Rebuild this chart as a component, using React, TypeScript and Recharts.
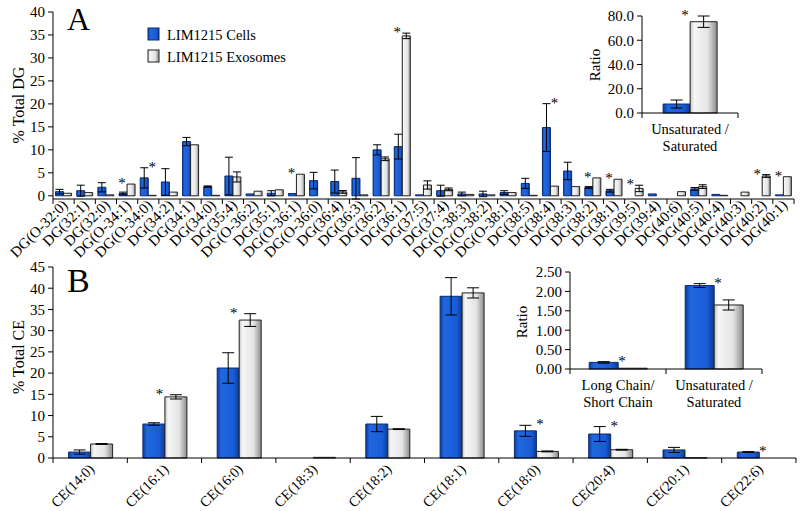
import React from 'react';
import { ComposedChart, Bar, Line, XAxis, YAxis, ErrorBar } from 'recharts';

const FONT = "'Liberation Serif', 'Times New Roman', serif";

// Panel A: DG species
const dgLabels = [
  'DG(O-32:0)', 'DG(32:1)', 'DG(32:0)', 'DG(O-34:1)', 'DG(O-34:0)', 'DG(34:2)', 'DG(34:1)',
  'DG(34:0)', 'DG(35:4)', 'DG(O-36:2)', 'DG(35:1)', 'DG(O-36:1)', 'DG(O-36:0)', 'DG(36:4)',
  'DG(36:3)', 'DG(36:2)', 'DG(36:1)', 'DG(37:5)', 'DG(37:4)', 'DG(O-38:3)', 'DG(O-38:2)',
  'DG(O-38:1)', 'DG(38:5)', 'DG(38:4)', 'DG(38:3)', 'DG(38:2)', 'DG(38:1)', 'DG(39:5)',
  'DG(39:4)', 'DG(40:6)', 'DG(40:5)', 'DG(40:4)', 'DG(40:3)', 'DG(40:2)', 'DG(40:1)',
];
const dgCells = [0.9, 1.1, 1.85, 0.5, 3.9, 3.0, 11.8, 2.0, 4.3, 0.4, 0.55, 0.5, 3.3, 3.1, 3.8, 10.0, 10.7, 0.2, 1.1, 0.4, 0.4, 0.7, 2.7, 14.85, 5.4, 1.8, 1.1, 0, 0.4, 0, 1.5, 0.3, 0, 0, 0.2];
const dgCellsErr = [0.5, 1.2, 1.0, 0.3, 2.2, 2.9, 0.9, 0.15, 4.1, 0, 0.55, 0, 1.8, 2.5, 4.5, 1.1, 2.7, 0, 1.2, 0.4, 0.6, 0.4, 1.1, 5.2, 1.9, 0.2, 0.3, 0, 0, 0, 0.3, 0, 0, 0, 0];
const dgExo = [0.55, 0.7, 0.2, 2.55, 0.1, 0.8, 11.1, 0.1, 4.1, 1.0, 1.3, 4.7, 0, 0.85, 0.2, 8.05, 34.8, 2.35, 1.4, 0.3, 0.2, 0.7, 0.1, 2.1, 2.0, 3.9, 3.6, 1.6, 0, 0.9, 2.0, 0.1, 0.8, 4.3, 4.15];
const dgExoErr = [0, 0, 0, 0, 0, 0, 0, 0, 1.1, 0, 0, 0, 0, 0.3, 0, 0.4, 0.6, 0.9, 0.3, 0, 0, 0, 0, 0, 0, 0, 0, 0.7, 0, 0, 0.4, 0, 0, 0.3, 0];
const dgStars = ['DG(O-34:1)', 'DG(O-34:0)', 'DG(O-36:1)', 'DG(36:1)', 'DG(38:4)', 'DG(38:2)', 'DG(38:1)', 'DG(39:5)', 'DG(40:2)', 'DG(40:1)'];
const dgTicks = [0, 5, 10, 15, 20, 25, 30, 35, 40];

// Panel A inset
const dgRatioLabels = ['Unsaturated /\nSaturated'];
const dgRatioCells = [7.4];
const dgRatioCellsErr = [3.3];
const dgRatioExo = [75.3];
const dgRatioExoErr = [4.7];
const dgRatioStars = ['Unsaturated /\nSaturated'];
const dgRatioTicks = [0, 20, 40, 60, 80];

// Panel B: CE species
const ceLabels = ['CE(14:0)', 'CE(16:1)', 'CE(16:0)', 'CE(18:3)', 'CE(18:2)', 'CE(18:1)', 'CE(18:0)', 'CE(20:4)', 'CE(20:1)', 'CE(22:6)'];
const ceCells = [1.4, 8.0, 21.2, 0, 8.0, 38.1, 6.4, 5.65, 1.9, 1.4];
const ceCellsErr = [0.5, 0.3, 3.6, 0, 1.8, 4.4, 1.3, 1.75, 0.6, 0.1];
const ceExo = [3.3, 14.4, 32.5, 0.15, 6.8, 38.9, 1.55, 1.95, 0.05, 0];
const ceExoErr = [0.1, 0.5, 1.5, 0, 0.1, 1.2, 0.1, 0.1, 0, 0];
const ceStars = ['CE(16:1)', 'CE(16:0)', 'CE(18:0)', 'CE(20:4)', 'CE(22:6)'];
const ceTicks = [0, 5, 10, 15, 20, 25, 30, 35, 40, 45];

// Panel B inset
const ceRatioLabels = ['Long Chain/\nShort Chain', 'Unsaturated /\nSaturated'];
const ceRatioCells = [0.17, 2.15];
const ceRatioCellsErr = [0.02, 0.05];
const ceRatioExo = [0.02, 1.65];
const ceRatioExoErr = [0, 0.13];
const ceRatioStars = ['Long Chain/\nShort Chain', 'Unsaturated /\nSaturated'];
const ceRatioTicks = [0, 0.5, 1, 1.5, 2, 2.5];

function buildRows(labels: string[], c: number[], ce: number[], e: number[], ee: number[], stars: string[]) {
  return labels.map((name, i) => {
    const exoTaller = e[i] >= c[i];
    return {
      name,
      c: c[i],
      ce: ce[i],
      e: e[i],
      ee: ee[i],
      star: stars.includes(name),
      exoTaller,
      starY: exoTaller ? e[i] + ee[i] : c[i] + ce[i],
    };
  });
}

const dgRows = buildRows(dgLabels, dgCells, dgCellsErr, dgExo, dgExoErr, dgStars);
const dgRatioRows = buildRows(dgRatioLabels, dgRatioCells, dgRatioCellsErr, dgRatioExo, dgRatioExoErr, dgRatioStars);
const ceRows = buildRows(ceLabels, ceCells, ceCellsErr, ceExo, ceExoErr, ceStars);
const ceRatioRows = buildRows(ceRatioLabels, ceRatioCells, ceRatioCellsErr, ceRatioExo, ceRatioExoErr, ceRatioStars);

const Gradients = ({ id }: { id: string }) => (
  <defs>
    <linearGradient id={`blue-${id}`} x1="0" y1="0" x2="1" y2="0">
      <stop offset="0%" stopColor="#0b3c9c" />
      <stop offset="18%" stopColor="#2068e0" />
      <stop offset="75%" stopColor="#1a5cd6" />
      <stop offset="100%" stopColor="#0c3a92" />
    </linearGradient>
    <linearGradient id={`gray-${id}`} x1="0" y1="0" x2="1" y2="0">
      <stop offset="0%" stopColor="#c4c4c4" />
      <stop offset="15%" stopColor="#f6f6f6" />
      <stop offset="65%" stopColor="#e4e4e4" />
      <stop offset="100%" stopColor="#8c8c8c" />
    </linearGradient>
  </defs>
);

// rotated category tick with boundary tick marks
function rotatedTick(band: number, fontSize: number, dx: number, dy: number) {
  return (props: any) => {
    const { x, y, payload, index } = props;
    const h = band / 2;
    const tx = x + dx;
    const ty = y + dy;
    return (
      <g>
        <line x1={x + h} x2={x + h} y1={y} y2={y + 5} stroke="#000" />
        {index === 0 && <line x1={x - h} x2={x - h} y1={y} y2={y + 5} stroke="#000" />}
        <text x={tx} y={ty} textAnchor="end" transform={`rotate(-45 ${tx} ${ty})`}
          fontSize={fontSize} fontFamily={FONT} fill="#000">{payload.value}</text>
      </g>
    );
  };
}

function twoLineTick(band: number) {
  return (props: any) => {
    const { x, y, payload, index } = props;
    const h = band / 2;
    const lines = String(payload.value).split('\n');
    return (
      <g>
        <line x1={x + h} x2={x + h} y1={y} y2={y + 5} stroke="#000" />
        {index === 0 && <line x1={x - h} x2={x - h} y1={y} y2={y + 5} stroke="#000" />}
        {lines.map((t, i) => (
          <text key={i} x={x} y={y + 21 + i * 17} textAnchor="middle" fontSize={14.5} fontFamily={FONT} fill="#000">{t}</text>
        ))}
      </g>
    );
  };
}

const renderStar = (props: any) => {
  const { cx, cy, payload, index } = props;
  if (!payload || !payload.star || cx == null || cy == null) return <g key={`s${index}`} />;
  const sx = cx + (payload.exoTaller ? -5 : 4);
  return (
    <text key={`s${index}`} x={sx} y={cy + 4} textAnchor="middle" fontSize={15} fontFamily={FONT} fill="#000">*</text>
  );
};

type PanelProps = {
  id: string;
  rows: any[];
  width: number;
  height: number;
  margin: { top: number; right: number; left: number; bottom: number };
  yWidth: number;
  xHeight: number;
  domain: [number, number];
  ticks: number[];
  fmt?: (v: number) => string;
  gap: string;
  tick: any;
  errW: number;
};

const Panel = ({ id, rows, width, height, margin, yWidth, xHeight, domain, ticks, fmt, gap, tick, errW }: PanelProps) => (
  <ComposedChart width={width} height={height} data={rows} margin={margin} barCategoryGap={gap} barGap={0}
    style={{ fontFamily: FONT }}>
    <Gradients id={id} />
    <XAxis dataKey="name" interval={0} height={xHeight} tickLine={false} tickSize={0} tickMargin={0}
      axisLine={{ stroke: '#000' }} tick={tick} />
    <YAxis width={yWidth} domain={domain} ticks={ticks} interval={0}
      tickFormatter={fmt} axisLine={{ stroke: '#000' }} tickLine={{ stroke: '#000' }} tickSize={5} tickMargin={3}
      tick={{ fontSize: 15, fill: '#000', fontFamily: FONT }} />
    <Bar dataKey="c" fill={`url(#blue-${id})`} stroke="#0a2a6e" strokeWidth={1} isAnimationActive={false}>
      <ErrorBar dataKey="ce" width={errW} stroke="#000" strokeWidth={1} direction="y" />
    </Bar>
    <Bar dataKey="e" fill={`url(#gray-${id})`} stroke="#222" strokeWidth={1} isAnimationActive={false}>
      <ErrorBar dataKey="ee" width={errW} stroke="#000" strokeWidth={1} direction="y" />
    </Bar>
    <Line dataKey="starY" stroke="none" dot={renderStar} activeDot={false} legendType="none" isAnimationActive={false} />
  </ComposedChart>
);

const abs = (left: number, top: number): React.CSSProperties => ({ position: 'absolute', left, top });

export default function App() {
  const bandA = (800 - 6 - 53) / dgLabels.length;
  const bandB = (800 - 4 - 53) / ceLabels.length;
  return (
    <div style={{ position: 'absolute', left: 0, top: 0, width: 800, height: 511, background: '#fff', overflow: 'hidden', fontFamily: FONT }}>
      <div style={abs(0, 0)}>
        <Panel id="a" rows={dgRows} width={800} height={265} margin={{ top: 12, right: 6, left: 0, bottom: 0 }}
          yWidth={53} xHeight={66} domain={[0, 40]} ticks={dgTicks} gap="12%" errW={4}
          tick={rotatedTick(bandA, 15, 5, 7)} />
      </div>
      <div style={abs(0, 250)}>
        <Panel id="b" rows={ceRows} width={800} height={261} margin={{ top: 17, right: 4, left: 0, bottom: 0 }}
          yWidth={53} xHeight={53} domain={[0, 45]} ticks={ceTicks} gap="21%" errW={6}
          tick={rotatedTick(bandB, 14.5, 5, 12)} />
      </div>
      <div style={abs(580, 0)}>
        <Panel id="ai" rows={dgRatioRows} width={165} height={155} margin={{ top: 16, right: 7, left: 0, bottom: 0 }}
          yWidth={62} xHeight={42} domain={[0, 80]} ticks={dgRatioTicks} gap="22%" errW={6}
          fmt={(v) => v.toFixed(1)} tick={twoLineTick(96)} />
      </div>
      <div style={abs(500, 255)}>
        <Panel id="bi" rows={ceRatioRows} width={270} height={160} margin={{ top: 17, right: 8, left: 0, bottom: 0 }}
          yWidth={70} xHeight={46} domain={[0, 2.5]} ticks={ceRatioTicks} gap="20%" errW={6}
          fmt={(v) => v.toFixed(2)} tick={twoLineTick(96)} />
      </div>
      <svg width={800} height={511} style={{ position: 'absolute', left: 0, top: 0, pointerEvents: 'none' }}>
        <Gradients id="lg" />
        <text x={67} y={29.5} fontSize={32} fontFamily={FONT} fill="#000">A</text>
        <text x={67} y={292} fontSize={34} fontFamily={FONT} fill="#000">B</text>
        <rect x={148} y={28} width={11} height={12} fill="url(#blue-lg)" stroke="#0a2a6e" />
        <text x={167} y={40} fontSize={14.5} fontFamily={FONT} fill="#000">LIM1215 Cells</text>
        <rect x={148} y={50} width={11} height={12} fill="url(#gray-lg)" stroke="#222" />
        <text x={167} y={62} fontSize={14.5} fontFamily={FONT} fill="#000">LIM1215 Exosomes</text>
        <text x={24} y={105} fontSize={16} fontFamily={FONT} fill="#000" textAnchor="middle" transform="rotate(-90 24 105)">% Total DG</text>
        <text x={24} y={357} fontSize={16} fontFamily={FONT} fill="#000" textAnchor="middle" transform="rotate(-90 24 357)">% Total CE</text>
        <text x={600} y={65} fontSize={15} fontFamily={FONT} fill="#000" textAnchor="middle" transform="rotate(-90 600 65)">Ratio</text>
        <text x={527} y={322} fontSize={15} fontFamily={FONT} fill="#000" textAnchor="middle" transform="rotate(-90 527 322)">Ratio</text>
      </svg>
    </div>
  );
}
